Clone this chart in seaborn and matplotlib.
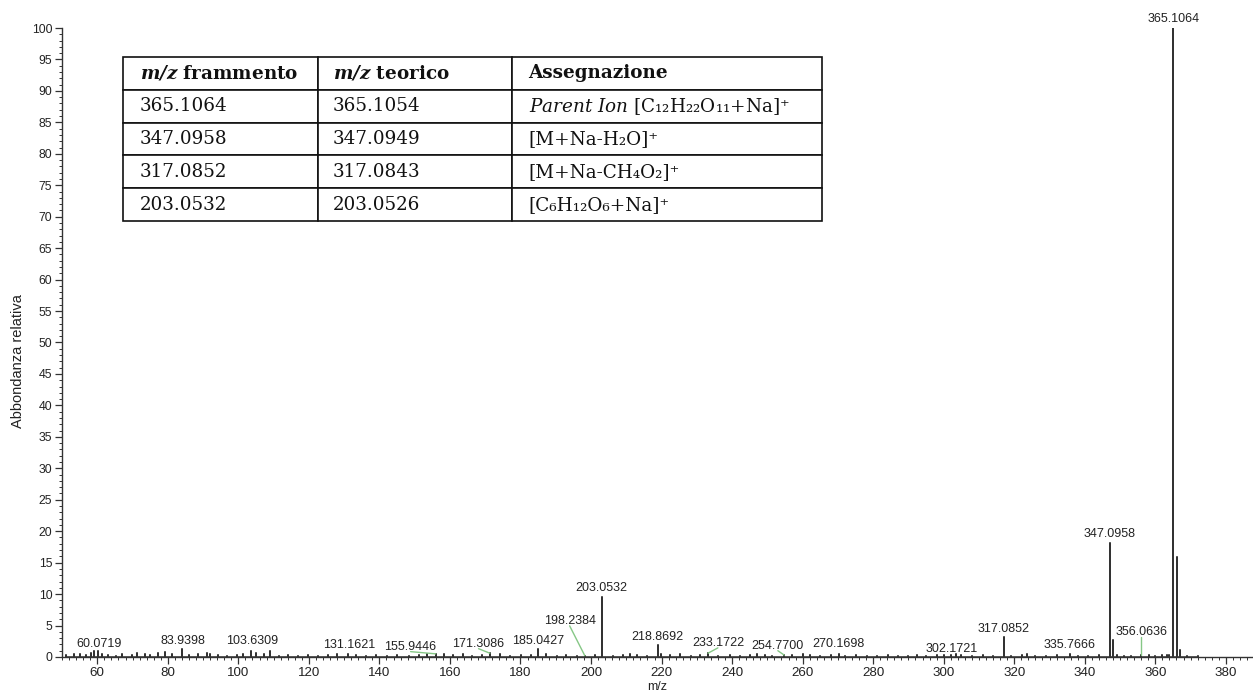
import matplotlib
matplotlib.use("Agg")
import matplotlib.pyplot as plt
from matplotlib.ticker import MultipleLocator
import numpy as np
import pandas as pd
import seaborn as sns

# ---- spectrum data -------------------------------------------------------
# labelled peaks (m/z, relative abundance %)
label_mz = [60.0719, 83.9398, 103.6309, 131.1621, 155.9446, 171.3086,
            185.0427, 198.2384, 203.0532, 218.8692, 233.1722, 254.7700,
            270.1698, 302.1721, 317.0852, 335.7666, 347.0958, 356.0636,
            365.1064]
label_ab = [1.0, 1.3, 1.0, 0.4, 0.5, 0.6,
            1.3, 0.2, 9.6, 1.9, 0.6, 0.3,
            0.5, 0.3, 3.1, 0.5, 18.2, 0.3,
            100.0]

# unlabelled isotope / minor peaks
extra_mz = [59.1, 58.3, 109.0, 163.6, 348.10, 366.11, 367.11]
extra_ab = [0.9, 0.6, 0.9, 0.5, 2.7, 15.9, 1.1]

# baseline noise
noise_mz = [51.2, 53.4, 55.1, 56.9, 61.3, 63.0, 65.2, 67.1, 69.8, 71.4,
            73.6, 75.0, 77.3, 79.1, 81.2, 86.0, 88.5, 91.1, 92.0, 94.3,
            96.9, 99.5, 101.2, 105.1, 107.3, 111.6, 114.2, 117.0, 119.8,
            122.5, 125.3, 128.0, 133.4, 136.1, 139.0, 142.2, 145.0, 148.3,
            151.1, 153.6, 158.2, 161.0, 166.2, 169.0, 174.1, 177.0, 180.2,
            183.0, 187.1, 190.3, 193.0, 196.1, 201.0, 206.2, 209.0, 211.0,
            213.1, 216.0, 219.9, 222.4, 225.1, 228.3, 231.0, 236.0, 239.3,
            242.1, 245.0, 247.1, 249.3, 251.2, 257.1, 260.0, 262.2, 265.0,
            268.1, 272.0, 275.1, 278.3, 281.0, 284.2, 287.1, 290.0, 292.3,
            295.1, 298.0, 300.2, 303.4, 305.0, 308.1, 311.2, 314.0, 319.0,
            322.1, 323.5, 326.0, 329.1, 332.0, 338.2, 341.0, 344.1, 349.0,
            351.1, 353.0, 358.1, 360.0, 362.0, 363.2, 364.0, 369.0, 372.1]
noise_ab = [0.3, 0.4, 0.5, 0.3, 0.4, 0.3, 0.2, 0.4, 0.3, 0.6,
            0.5, 0.3, 0.6, 0.8, 0.4, 0.3, 0.5, 0.6, 0.4, 0.3,
            0.2, 0.3, 0.4, 0.6, 0.5, 0.2, 0.3, 0.2, 0.3,
            0.2, 0.3, 0.4, 0.3, 0.2, 0.3, 0.2, 0.3, 0.2,
            0.3, 0.4, 0.5, 0.3, 0.2, 0.3, 0.4, 0.2, 0.3,
            0.3, 0.4, 0.2, 0.3, 0.2, 0.3, 0.2, 0.3, 0.4,
            0.3, 0.2, 0.4, 0.3, 0.4, 0.2, 0.3, 0.2, 0.3,
            0.2, 0.3, 0.4, 0.3, 0.2, 0.3, 0.4, 0.3, 0.2,
            0.3, 0.2, 0.3, 0.2, 0.2, 0.3, 0.2, 0.2, 0.3,
            0.2, 0.3, 0.3, 0.4, 0.3, 0.2, 0.3, 0.2, 0.2,
            0.3, 0.4, 0.2, 0.2, 0.3, 0.2, 0.2, 0.3, 0.3,
            0.2, 0.2, 0.3, 0.2, 0.3, 0.3, 0.3, 0.2, 0.2]

# fragment assignment table
col_labels = [r"$\mathbfit{m/z}$ frammento", r"$\mathbfit{m/z}$ teorico",
              "Assegnazione"]
frag_mz = ["365.1064", "347.0958", "317.0852", "203.0532"]
theo_mz = ["365.1054", "347.0949", "317.0843", "203.0526"]
assign = [r"$\mathit{Parent\ Ion}$ [C₁₂H₂₂O₁₁+Na]⁺",
          "[M+Na-H₂O]⁺",
          "[M+Na-CH₄O₂]⁺",
          "[C₆H₁₂O₆+Na]⁺"]

# ---- label placement (offsets of each annotation from its peak) ----------
label_dx = [0.3, 0.3, 0.4, 0.3, -7.1, -3.2,
            0.05, -4.3, 0.0, -0.05, 2.8, -1.8,
            0.0, 0.0, 0.0, 0.0, 0.0, 0.0,
            0.0]
label_dy = [1.07, 1.2, 1.5, 1.5, 1.1, 1.47,
            1.2, 5.5, 1.4, 1.3, 1.6, 1.45,
            1.57, 1.0, 1.35, 1.4, 1.35, 3.67,
            1.4]
leader = [False, False, False, False, True, True,
          False, True, False, False, True, True,
          False, False, False, False, False, True,
          False]

# ---- style ---------------------------------------------------------------
sns.set_theme(style="ticks")
plt.rcParams["font.family"] = ["Liberation Sans", "DejaVu Sans"]
plt.rcParams["mathtext.fontset"] = "custom"
plt.rcParams["mathtext.rm"] = "DejaVu Serif"
plt.rcParams["mathtext.it"] = "DejaVu Serif:italic"
plt.rcParams["mathtext.bf"] = "DejaVu Serif:bold"
plt.rcParams["mathtext.bfit"] = "DejaVu Serif:italic:bold"

ink = "#333333"
green = "#86c786"

fig = plt.figure(figsize=(12.53, 6.95), dpi=100)
ax = fig.add_axes([0.0495, 0.0547, 0.9505, 0.905])

# stick spectrum: each peak rises from and returns to the baseline
all_mz = np.array(label_mz + extra_mz + noise_mz)
all_ab = np.array(label_ab + extra_ab + noise_ab)
order = np.argsort(all_mz)
xs, ys = [], []
for m, a in zip(all_mz[order], all_ab[order]):
    xs += [m, m, m]
    ys += [0.0, a, 0.0]
spec = pd.DataFrame({"mz": xs, "ab": ys})
sns.lineplot(data=spec, x="mz", y="ab", sort=False, estimator=None,
             color=ink, linewidth=1.1, ax=ax)

# peak annotations
for m, a, dx, dy, lead in zip(label_mz, label_ab, label_dx, label_dy, leader):
    tx, ty = m + dx, a + dy
    ax.text(tx, ty, f"{m:.4f}", ha="center", va="center", fontsize=9,
            color="#222222", clip_on=False)
    if lead:
        ax.plot([tx, m], [ty - 0.75, a], color=green, linewidth=1.0,
                clip_on=False)

ax.set_xlim(50.0, 387.7)
ax.set_ylim(0, 100)
ax.xaxis.set_major_locator(MultipleLocator(20))
ax.xaxis.set_minor_locator(MultipleLocator(2))
ax.yaxis.set_major_locator(MultipleLocator(5))
ax.yaxis.set_minor_locator(MultipleLocator(1))
ax.tick_params(axis="both", which="major", length=5, width=0.9,
               color=ink, labelcolor="#222222", pad=2)
ax.tick_params(axis="both", which="minor", length=2.5, width=0.7, color=ink)
ax.tick_params(axis="x", labelsize=9.6)
ax.tick_params(axis="y", labelsize=8.8)
sns.despine(ax=ax)
for s in ("left", "bottom"):
    ax.spines[s].set_color(ink)
    ax.spines[s].set_linewidth(1.0)

ax.set_xlabel("m/z", fontsize=9, color="#222222", labelpad=2)
ax.set_ylabel("Abbondanza relativa", fontsize=10.5, color="#222222")
ax.yaxis.set_label_coords(-0.031, 0.47)

# fragment table
cell_text = [[f, t, s] for f, t, s in zip(frag_mz, theo_mz, assign)]
tbl = ax.table(cellText=cell_text, colLabels=col_labels,
               colWidths=[0.279, 0.278, 0.443], cellLoc="left",
               colLoc="left", bbox=[0.0512, 0.693, 0.587, 0.261])
tbl.auto_set_font_size(False)
pads = [0.087, 0.077, 0.052]
for (r, c), cell in tbl.get_celld().items():
    cell.set_edgecolor("#111111")
    cell.set_linewidth(1.2)
    cell.set_facecolor("white")
    cell.PAD = pads[c]
    txt = cell.get_text()
    txt.set_fontfamily(["DejaVu Serif", "DejaVu Sans"])
    txt.set_fontsize(13.2)
    txt.set_color("#111111")
    if r == 0:
        txt.set_fontweight("bold")

fig.savefig("out.png", dpi=100)
